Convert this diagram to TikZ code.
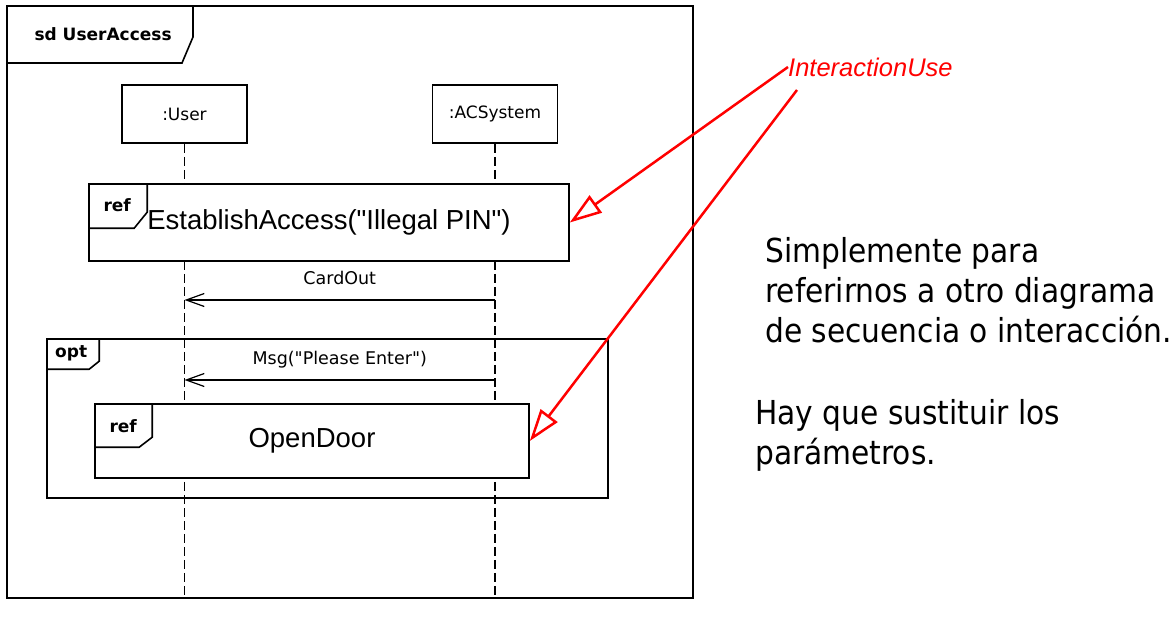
\documentclass[tikz,border=0pt]{standalone}
\usepackage{fontspec}
\setmainfont{Liberation Sans}
\newfontfamily\labelfont{DejaVu Sans}
\newfontfamily\notefont{DejaVu Sans Condensed}
\usetikzlibrary{arrows.meta, positioning}
\definecolor{notered}{RGB}{255,0,0}

\begin{document}
\begin{tikzpicture}[x=1pt,y=-1pt,
	frame/.style={draw,line width=1.8pt},
	lifehead/.style={draw,line width=1.6pt,minimum width=125pt,minimum height=58pt,inner sep=0pt,font=\labelfont\fontsize{17}{20}\selectfont},
	refbox/.style={draw,fill=white,line width=1.6pt,inner sep=0pt,font=\fontsize{27.5}{32}\selectfont},
	tab/.style={draw,line width=1.6pt},
	tabtext/.style={font=\labelfont\bfseries\fontsize{17}{20}\selectfont},
	lifeline/.style={line width=1.6pt,dash pattern=on 9pt off 4pt},
	msg/.style={line width=1.6pt,-{Straight Barb[length=18pt,width=13pt,line width=1.2pt]}},
	msgtext/.style={font=\labelfont\fontsize{17.5}{20}\selectfont,above=15pt,inner sep=0pt,text depth=0pt},
	usearrow/.style={notered,line width=2.5pt,-{Triangle[open,length=32pt,width=21pt]}},
	note/.style={font=\notefont\fontsize{33}{40}\selectfont,align=left,anchor=north west,inner sep=0pt}]

	\useasboundingbox (0,0) rectangle (1176,627);

	\draw[frame] (7,6) rectangle (693,598);
	\draw[tab] (7,6) -| (193,37) -- (182,63) -- (7,63);
	\node[tabtext,anchor=west] (sdname) at (31,34) {sd UserAccess};

	\node[lifehead] (user) at (184.5,114) {:User};
	\node[lifehead] (acs) at (495,114) {:ACSystem};
	\coordinate (bottom) at (0,598);
	\draw[lifeline] (user.south) -- (user.south |- bottom);
	\draw[lifeline] (acs.south) -- (acs.south |- bottom);

	\node[refbox,minimum width=480pt,minimum height=77pt] (access) at (329,222.5) {EstablishAccess(\textquotedbl Illegal PIN\textquotedbl)};
	\draw[tab] (access.north west) ++(59,0) -- ++(0,29) -- ++(-13,16) -- ++(-46,0);
	\node[tabtext] (accesstag) at ([shift={(29,22)}]access.north west) {ref};

	\coordinate (cardy) at (0,300);
	\draw[msg] (acs |- cardy) -- node[msgtext] {CardOut} (user |- cardy);

	\node[frame,line width=1.6pt,minimum width=561pt,minimum height=159pt] (opt) at (327.5,418.5) {};
	\draw[tab] (opt.north west) ++(53,0) -- ++(0,23) -- ++(-10,8) -- ++(-43,0);
	\node[tabtext] (opttag) at ([shift={(25,15)}]opt.north west) {opt};

	\coordinate (msgy) at (0,380);
	\draw[msg] (acs |- msgy) -- node[msgtext] {Msg("Please Enter")} (user |- msgy);

	\node[refbox,minimum width=434pt,minimum height=74pt] (door) at (312,441) {OpenDoor};
	\draw[tab] (door.north west) ++(58,0) -- ++(0,34) -- ++(-13,10) -- ++(-45,0);
	\node[tabtext] (doortag) at ([shift={(29,23)}]door.north west) {ref};

	\node[font=\itshape\fontsize{25.5}{28}\selectfont,text=notered,anchor=west,inner sep=0pt] (use) at (788,67) {InteractionUse};
	\coordinate (usefoot) at ([shift={(9,23)}]use.west);
	\draw[usearrow] (use.west) -- (access.east);
	\draw[usearrow] (usefoot) -- (door.east);

	\node[note] (why) at (765,237) {Simplemente para\\referirnos a otro diagrama\\de secuencia o interacción.};
	\node[note] (params) at (755,399) {Hay que sustituir los\\parámetros.};
\end{tikzpicture}
\end{document}
